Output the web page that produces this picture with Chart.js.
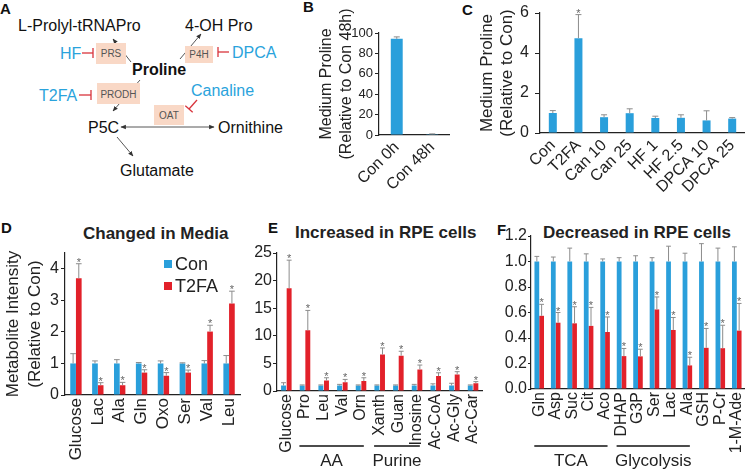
<!DOCTYPE html>
<html><head><meta charset="utf-8">
<script src="https://cdn.jsdelivr.net/npm/chart.js@4.4.0/dist/chart.umd.min.js"></script>
<style>
html,body{margin:0;padding:0;background:#fff;}
#root{position:relative;width:745px;height:475px;overflow:hidden;font-family:"Liberation Sans",Arial,sans-serif;color:#222;}
.box{position:absolute;}
.letter{position:absolute;font-weight:bold;font-size:15px;line-height:15px;color:#111;}
.ptitle{position:absolute;font-weight:bold;font-size:17px;line-height:17px;color:#222;white-space:nowrap;}
#legD{position:absolute;left:164px;top:253px;font-size:18px;line-height:22px;color:#222;}
#legD .sw{display:inline-block;width:8px;height:8px;margin-right:3px;vertical-align:2px;}
svg text{font-family:"Liberation Sans",Arial,sans-serif;}
</style></head><body>
<div id="root">
<svg class="box" style="left:0;top:0" width="300" height="200" viewBox="0 0 300 200">
  <defs>
    <marker id="ah" viewBox="0 0 10 10" refX="9" refY="5" markerWidth="6" markerHeight="6" orient="auto-start-reverse">
      <path d="M0,1 L10,5 L0,9 z" fill="#333"/>
    </marker>
  </defs>
  <g stroke="#444" stroke-width="0.9" fill="none">
    <line x1="131" y1="62" x2="113" y2="39" marker-end="url(#ah)"/>
    <line x1="180" y1="59" x2="201" y2="34" marker-end="url(#ah)"/>
    <line x1="140" y1="80" x2="113" y2="111" marker-end="url(#ah)"/>
    <line x1="121" y1="127" x2="214" y2="127" marker-start="url(#ah)" marker-end="url(#ah)"/>
    <line x1="117" y1="137" x2="133" y2="156" marker-end="url(#ah)"/>
  </g>
  <g fill="#F9D8C6">
    <rect x="96" y="43" width="30" height="21"/>
    <rect x="185" y="46" width="28" height="17"/>
    <rect x="97" y="83" width="43" height="21"/>
    <rect x="154" y="105" width="30" height="20"/>
  </g>
  <g fill="#555" font-size="10" text-anchor="middle">
    <text x="111" y="57">PRS</text>
    <text x="199" y="58">P4H</text>
    <text x="118.5" y="97.5">PRODH</text>
    <text x="169" y="119">OAT</text>
  </g>
  <g fill="#111" font-size="16">
    <text x="18" y="31">L-Prolyl-tRNAPro</text>
    <text x="185" y="31">4-OH Pro</text>
    <text x="88" y="133">P5C</text>
    <text x="218" y="133">Ornithine</text>
    <text x="120" y="176">Glutamate</text>
    <text x="132" y="75" font-weight="bold">Proline</text>
  </g>
  <g fill="#2AA3DC" font-size="16">
    <text x="60" y="59">HF</text>
    <text x="232" y="58">DPCA</text>
    <text x="39" y="101">T2FA</text>
    <text x="191" y="96">Canaline</text>
  </g>
  <g stroke="#D8343C" stroke-width="1.3" fill="none">
    <line x1="82" y1="53" x2="93" y2="53"/><line x1="93" y1="48" x2="93" y2="58"/>
    <line x1="218" y1="52" x2="229" y2="52"/><line x1="218" y1="47" x2="218" y2="57"/>
    <line x1="79" y1="95" x2="91" y2="95"/><line x1="91" y1="90" x2="91" y2="100"/>
    <line x1="197" y1="100" x2="189" y2="109"/><line x1="185.3" y1="105.7" x2="192.7" y2="112.3"/>
  </g>
</svg>
<div class="letter" style="left:0;top:1px">A</div>
<div class="letter" style="left:303px;top:-1px">B</div>
<div class="letter" style="left:462px;top:2px">C</div>
<div class="letter" style="left:1px;top:220px">D</div>
<div class="letter" style="left:268px;top:220px">E</div>
<div class="letter" style="left:497px;top:222px">F</div>
<div class="ptitle" style="left:83px;top:225px">Changed in Media</div>
<div class="ptitle" style="left:295px;top:224px">Increased in RPE cells</div>
<div class="ptitle" style="left:543px;top:224px">Decreased in RPE cells</div>

<div class="box" style="left:300px;top:0;width:150px;height:200px"><canvas id="cB"></canvas></div>
<div class="box" style="left:450px;top:0;width:295px;height:200px"><canvas id="cC"></canvas></div>
<div class="box" style="left:0;top:200px;width:245px;height:275px"><canvas id="cD"></canvas></div>
<div class="box" style="left:245px;top:200px;width:240px;height:275px"><canvas id="cE"></canvas></div>
<div class="box" style="left:485px;top:200px;width:260px;height:275px"><canvas id="cF"></canvas></div>
<div id="legD"></div>
</div>
<script>
// ---------- DATA ----------
const seriesNames = ['Con', 'T2FA'];

const bCats = ['Con 0h', 'Con 48h'];
const bVals = [94.3, 0.8];
const bErr  = [1.9, 0.3];
const bTicks = [0, 20, 40, 60, 80, 100];

const cCats = ['Con', 'T2FA', 'Can 10', 'Can 25', 'HF 1', 'HF 2.5', 'DPCA 10', 'DPCA 25'];
const cVals = [1.0, 4.74, 0.79, 0.99, 0.75, 0.76, 0.63, 0.72];
const cErr  = [0.12, 1.18, 0.12, 0.22, 0.09, 0.15, 0.48, 0.05];
const cStars = [0, 1, 0, 0, 0, 0, 0, 0];
const cTicks = [0, 1, 2, 3, 4, 5, 6];

const dCats = ['Glucose', 'Lac', 'Ala', 'Gln', 'Oxo', 'Ser', 'Val', 'Leu'];
const dCon    = [1, 1, 1, 1, 1, 1, 1, 1];
const dConErr = [0.31, 0.08, 0.12, 0.03, 0.08, 0.02, 0.09, 0.25];
const dT2     = [3.70, 0.31, 0.31, 0.71, 0.61, 0.71, 2.01, 2.90];
const dT2Err  = [0.46, 0.08, 0.09, 0.09, 0.10, 0.08, 0.20, 0.39];
const dT2Stars = [1, 1, 1, 1, 1, 1, 1, 1];
const dTicks = [0, 1, 2, 3, 4];

const eCats = ['Glucose', 'Pro', 'Leu', 'Val', 'Orn', 'Xanth', 'Guan', 'Inosine', 'Ac-CoA', 'Ac-Gly', 'Ac-Car'];
const eCon    = [1, 1, 1, 1, 1, 1, 1, 1, 1, 1, 1];
const eConErr = [0.5, 0.1, 0.1, 0.2, 0.1, 0.1, 0.1, 0.2, 0.3, 0.4, 0.1];
const eT2     = [18.6, 11.0, 1.9, 1.6, 1.8, 6.6, 6.4, 3.9, 2.7, 3.0, 1.4];
const eT2Err  = [5.1, 3.6, 0.5, 0.5, 0.6, 1.2, 0.8, 0.8, 0.6, 0.5, 0.3];
const eT2Stars = [1, 1, 1, 1, 1, 1, 1, 1, 1, 1, 1];
const eTicks = [0, 5, 10, 15, 20, 25];

const fCats = ['Gln', 'Asp', 'Suc', 'Cit', 'Aco', 'DHAP', 'G3P', 'Ser', 'Lac', 'Ala', 'GSH', 'P-Cr', '1-M-Ade'];
const fCon    = [1, 1, 1, 1, 1, 1, 1, 1, 1, 1, 1, 1, 1];
const fConErr = [0.04, 0.035, 0.105, 0.06, 0.02, 0.03, 0.045, 0.03, 0.12, 0.065, 0.14, 0.105, 0.115];
const fT2     = [0.574, 0.52, 0.515, 0.495, 0.447, 0.258, 0.256, 0.624, 0.463, 0.185, 0.323, 0.32, 0.458];
const fT2Err  = [0.09, 0.08, 0.13, 0.145, 0.118, 0.06, 0.056, 0.098, 0.098, 0.064, 0.152, 0.18, 0.213];
const fT2Stars = [1, 1, 1, 1, 1, 1, 1, 1, 1, 1, 1, 1, 1];
const fTicks = [0, 0.2, 0.4, 0.6, 0.8, 1.0, 1.2];

const eGroups = [{label: 'AA', from: 'Pro', to: 'Orn'}, {label: 'Purine', from: 'Xanth', to: 'Inosine'}];
const fGroups = [{label: 'TCA', from: 'Gln', to: 'Aco'}, {label: 'Glycolysis', from: 'DHAP', to: 'Ala'}];

// ---------- STYLE ----------
const BLUE = '#2A9FDB', RED = '#E2212A', INK = '#222';
const FONT = '"Liberation Sans", Arial, sans-serif';
Chart.defaults.font.family = FONT;
Chart.defaults.color = INK;

const errPlugin = {
  id: 'errbars',
  afterDatasetsDraw(chart) {
    const ctx = chart.ctx, ys = chart.scales.y;
    chart.data.datasets.forEach((ds, di) => {
      if (!ds.errors) return;
      const meta = chart.getDatasetMeta(di);
      meta.data.forEach((el, i) => {
        const v = ds.data[i], e = ds.errors[i];
        const x = el.x, y0 = el.y, y1 = ys.getPixelForValue(v + e);
        const half = Math.min(3, el.width / 2);
        ctx.save();
        ctx.strokeStyle = '#8c8c8c'; ctx.lineWidth = 1;
        ctx.beginPath();
        ctx.moveTo(x, y0); ctx.lineTo(x, y1);
        ctx.moveTo(x - half, y1); ctx.lineTo(x + half, y1);
        ctx.stroke();
        if (ds.stars && ds.stars[i]) {
          ctx.fillStyle = '#666'; ctx.font = '11px ' + FONT;
          ctx.textAlign = 'center'; ctx.textBaseline = 'alphabetic';
          ctx.fillText('*', x, y1 + 2);
        }
        ctx.restore();
      });
    });
  }
};

const groupPlugin = {
  id: 'groups',
  afterDraw(chart, args, opts) {
    if (!opts || !opts.items) return;
    const ctx = chart.ctx, xs = chart.scales.x;
    const labels = chart.data.labels;
    const w = xs.width / labels.length;
    opts.items.forEach(g => {
      const xa = xs.getPixelForValue(labels.indexOf(g.from)) - 0.3 * w;
      const xb = xs.getPixelForValue(labels.indexOf(g.to)) + 0.15 * w;
      ctx.save();
      ctx.strokeStyle = '#111'; ctx.lineWidth = 1.5;
      ctx.beginPath(); ctx.moveTo(xa, opts.y); ctx.lineTo(xb, opts.y); ctx.stroke();
      ctx.fillStyle = INK; ctx.font = '17px ' + FONT;
      ctx.textAlign = 'center'; ctx.textBaseline = 'middle';
      ctx.fillText(g.label, (xa + xb) / 2, opts.y + 15);
      ctx.restore();
    });
  }
};

function makeChart(id, cfg) {
  const yScale = {
    min: 0, max: cfg.max,
    ticks: Object.assign({stepSize: cfg.step, font: {size: cfg.yTickSize || 15}, padding: cfg.yTickPad || 2,
      includeBounds: false}, cfg.yTickFmt ? {callback: cfg.yTickFmt} : {}),
    grid: {display: true, drawOnChartArea: false, drawTicks: true, tickLength: cfg.tickLen || 4, color: INK, lineWidth: 1},
    border: {display: true, color: INK, width: 1.2},
    afterBuildTicks: s => { s.ticks = s.ticks.filter(t => cfg.tickVals.some(v => Math.abs(v - t.value) < 1e-9)); },
    afterFit: s => { s.width = cfg.yWidth; s.paddingTop = 0; s.paddingBottom = 0; }
  };
  if (cfg.yTitle) {
    yScale.title = {display: true, text: cfg.yTitle, color: INK,
      font: {size: cfg.yTitleSize, lineHeight: cfg.yTitleLH}, padding: {top: cfg.yTitlePad, bottom: 0}};
  }
  return new Chart(document.getElementById(id), {
    type: 'bar',
    data: {labels: cfg.labels, datasets: cfg.datasets},
    options: {
      responsive: true, maintainAspectRatio: false, animation: false,
      layout: {padding: cfg.pad},
      plugins: {legend: {display: false}, tooltip: {enabled: false}, groups: cfg.groups || {}},
      scales: {
        x: {
          grid: {display: false, drawTicks: false},
          border: {display: true, color: INK, width: 1.2},
          ticks: {autoSkip: false, minRotation: cfg.rot, maxRotation: cfg.rot, font: {size: cfg.xTickSize || 16}, padding: cfg.xTickPad || 3, color: INK},
          afterFit: s => { s.height = cfg.xHeight; s.paddingLeft = 0; s.paddingRight = 0; }
        },
        y: yScale
      }
    },
    plugins: [errPlugin, groupPlugin]
  });
}

function bars(label, data, color, errors, stars, bp, cp) {
  return {label, data, errors, stars, backgroundColor: color, borderWidth: 0,
    barPercentage: bp, categoryPercentage: cp};
}

// B
makeChart('cB', {
  labels: bCats, max: 100, step: 20, tickVals: bTicks, yTickSize: 13, yWidth: 79, tickLen: 4, yTickPad: 2,
  yTitle: ['Medium Proline', '(Relative to Con 48h)'], yTitleSize: 16, yTitleLH: 1.25, yTitlePad: 17,
  pad: {top: 33, left: 0, right: 0, bottom: 0}, xHeight: 65, rot: 45, xTickSize: 16,
  datasets: [bars(seriesNames[0], bVals, BLUE, bErr, null, 0.42, 0.8)]
});
// C
makeChart('cC', {
  labels: cCats, max: 6, step: 1, tickVals: cTicks, yTickSize: 16, yWidth: 90, tickLen: 5, yTickPad: 6,
  yTitle: ['Medium Proline', '(Relative to Con)'], yTitleSize: 17, yTitleLH: 1.2, yTitlePad: 27,
  pad: {top: 13, left: 0, right: 0, bottom: 0}, xHeight: 67, rot: 45, xTickSize: 16,
  datasets: [bars(seriesNames[0], cVals, BLUE, cErr, cStars, 0.39, 0.8)]
});
// D
makeChart('cD', {
  labels: dCats, max: 4.5, step: 1, tickVals: dTicks, yTickSize: 16, yWidth: 65, tickLen: 4, yTickPad: 2,
  yTitle: ['Metabolite Intensity', '(Relative to Con)'], yTitleSize: 17, yTitleLH: 1.3, yTitlePad: 2,
  pad: {top: 53, left: 0, right: 5, bottom: 0}, xHeight: 80, rot: 90, xTickSize: 17,
  datasets: [bars(seriesNames[0], dCon, BLUE, dConErr, null, 1.0, 0.52),
             bars(seriesNames[1], dT2, RED, dT2Err, dT2Stars, 1.0, 0.52)]
});
// E
makeChart('cE', {
  labels: eCats, max: 25, step: 5, tickVals: eTicks, yTickSize: 16, yWidth: 32, tickLen: 4, yTickPad: 1,
  pad: {top: 53, left: 0, right: 2.6, bottom: 0}, xHeight: 84, rot: 90, xTickSize: 16,
  groups: {items: eGroups, y: 246},
  datasets: [bars(seriesNames[0], eCon, BLUE, eConErr, null, 0.88, 0.6),
             bars(seriesNames[1], eT2, RED, eT2Err, eT2Stars, 0.88, 0.6)]
});
// F
makeChart('cF', {
  labels: fCats, max: 1.2, step: 0.2, tickVals: fTicks, yTickSize: 16, yWidth: 46, tickLen: 3, yTickPad: 1,
  yTickFmt: v => Number(v).toFixed(1),
  pad: {top: 36, left: 0, right: 0, bottom: 0}, xHeight: 86, rot: 90, xTickSize: 16,
  groups: {items: fGroups, y: 246},
  datasets: [bars(seriesNames[0], fCon, BLUE, fConErr, null, 1.0, 0.58),
             bars(seriesNames[1], fT2, RED, fT2Err, fT2Stars, 1.0, 0.58)]
});

// D legend (HTML, from series names)
document.getElementById('legD').innerHTML = seriesNames.map((n, i) =>
  '<div><span class="sw" style="background:' + [BLUE, RED][i] + '"></span>' + n + '</div>').join('');
</script>
</body></html>
